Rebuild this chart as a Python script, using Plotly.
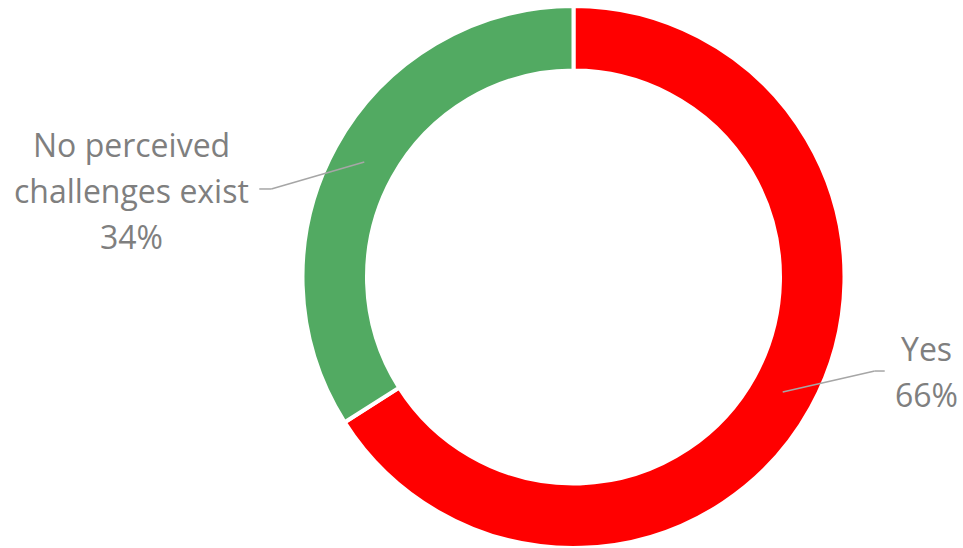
import math
import plotly.graph_objects as go

# ---- data ----
labels = ["Yes", "No perceived challenges exist"]
label_lines = [["Yes"], ["No perceived", "challenges exist"]]
values = [66, 34]
colors = ["#FF0000", "#52AA62"]

# ---- layout constants (pixels) ----
W, H = 963, 548
CX, CY = 573.5, 277.0
R_OUT = 271.0
HOLE = 0.762
R_MID = R_OUT * (1 + HOLE) / 2

# leader-line elbow offsets relative to slice anchor, and label placement
leader = {
    0: dict(elbow=(92, -21), tail=10, label_dx=52, label_dy=0),
    1: dict(elbow=(-93, 27), tail=-12, label_dx=-140, label_dy=2),
}
LINE_GAP = 46
FONT = dict(family="'Open Sans', sans-serif", size=32, color="#7F7F7F")

def px(x):
    return x / W

def py(y):
    return 1 - y / H

fig = go.Figure(go.Pie(
    labels=labels,
    values=values,
    hole=HOLE,
    sort=False,
    direction="clockwise",
    rotation=0,
    marker=dict(colors=colors, line=dict(color="white", width=4)),
    textinfo="none",
    hoverinfo="label+percent",
    showlegend=False,
    domain=dict(x=[px(CX - R_OUT), px(CX + R_OUT)], y=[0, (2 * R_OUT) / H]),
))

total = sum(values)
cum = 0
annotations = []
shapes = []
for i, v in enumerate(values):
    frac = v / total
    mid = (cum + frac / 2) * 2 * math.pi
    cum += frac
    ax = CX + R_MID * math.sin(mid)
    ay = CY - R_MID * math.cos(mid)
    cfg = leader[i]
    ex, ey = ax + cfg["elbow"][0], ay + cfg["elbow"][1]
    tx = ex + cfg["tail"]
    shapes.append(dict(type="line", xref="paper", yref="paper",
                       x0=px(ax), y0=py(ay), x1=px(ex), y1=py(ey),
                       line=dict(color="#A6A6A6", width=1.5)))
    shapes.append(dict(type="line", xref="paper", yref="paper",
                       x0=px(ex), y0=py(ey), x1=px(tx), y1=py(ey),
                       line=dict(color="#A6A6A6", width=1.5)))
    lines = label_lines[i] + [f"{round(frac * 100)}%"]
    lx = ex + cfg["label_dx"]
    ly0 = ey + cfg["label_dy"] - LINE_GAP * (len(lines) - 1) / 2
    for j, t in enumerate(lines):
        annotations.append(dict(text=t, xref="paper", yref="paper",
                                x=px(lx), y=py(ly0 + j * LINE_GAP),
                                xanchor="center", yanchor="middle",
                                showarrow=False, font=FONT))

fig.update_layout(
    width=W, height=H,
    margin=dict(l=0, r=0, t=0, b=0),
    paper_bgcolor="white", plot_bgcolor="white",
    shapes=shapes, annotations=annotations,
)

fig.write_html("out.html", config={"displayModeBar": False},
               post_script="document.body.style.margin='0';document.body.style.overflow='hidden';")
